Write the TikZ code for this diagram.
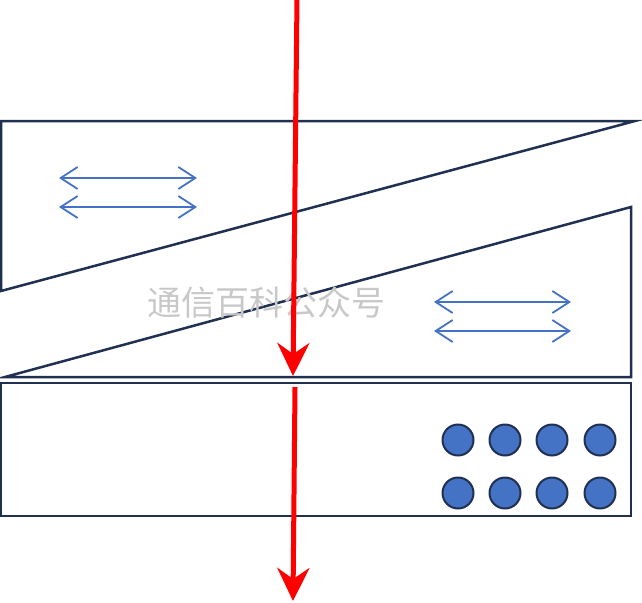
\documentclass[tikz,border=0pt]{standalone}
\usepackage{fontspec}
\newfontfamily\cjk{Noto Sans CJK SC}
\usetikzlibrary{arrows.meta}
\definecolor{navy}{HTML}{1F3050}
\definecolor{bluefill}{HTML}{4472C4}
\definecolor{wm}{HTML}{C8C8C8}
\tikzset{
  prism/.style={draw=navy, line width=2.5pt, line join=miter},
  beam/.style={draw=red, line width=5pt, -{Stealth[length=33pt,width=32pt,inset=11pt]}},
  dbl/.style={draw=bluefill, line width=1.8pt, {Straight Barb[length=17pt,width=22pt,line width=1.8pt]}-{Straight Barb[length=17pt,width=22pt,line width=1.8pt]}},
  port/.style={circle, draw=navy, fill=bluefill, line width=2pt, minimum size=31pt, inner sep=0pt},
}
\begin{document}
\begin{tikzpicture}[x=1pt,y=-1pt]
\useasboundingbox (0,0) rectangle (642,602);
% upper prism
\draw[prism] (1,121) -- (635,121) -- (1,291) -- cycle;
% lower prism
\draw[prism] (5,377) -- (631,207) -- (631,377) -- cycle;
% bottom box
\draw[prism] (1,383) rectangle (631,516);
% watermark
\node[text=wm, font=\cjk\fontsize{34}{34}\selectfont] (wm) at (266,303) {通信百科公众号};
% blue double arrows
\coordinate (a1) at (59,178); \coordinate (b1) at (197,178);
\coordinate (a2) at (59,207); \coordinate (b2) at (197,207);
\coordinate (a3) at (434,302); \coordinate (b3) at (571,302);
\coordinate (a4) at (434,331); \coordinate (b4) at (571,331);
\draw[dbl] (a1) -- (b1);
\draw[dbl] (a2) -- (b2);
\draw[dbl] (a3) -- (b3);
\draw[dbl] (a4) -- (b4);
% ports
\foreach \x [count=\i] in {458,505,552,600}{
  \node[port] (p\i t) at (\x,440) {};
  \node[port] (p\i b) at (\x,493) {};
}
% red beam
\coordinate (r0) at (297,-2);
\coordinate (r1) at (293,376);
\coordinate (r2) at (295,387);
\coordinate (r3) at (293,601);
\draw[beam] (r0) -- (r1);
\draw[beam] (r2) -- (r3);
\end{tikzpicture}
\end{document}
